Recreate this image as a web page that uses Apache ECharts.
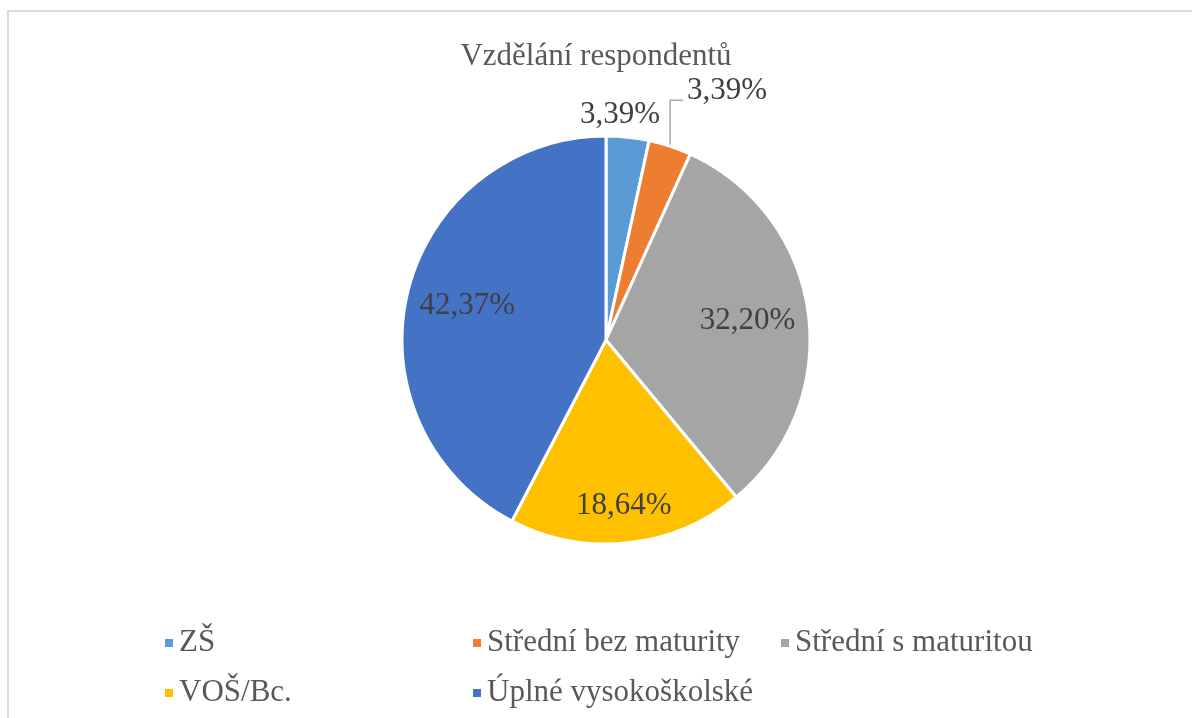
<!DOCTYPE html>
<html lang="cs">
<head>
    <meta charset="utf-8" />
    <title>Vzdělání respondentů</title>
    <script src="https://cdn.jsdelivr.net/npm/echarts@6/dist/echarts.min.js"></script>
    <style>
        html, body { margin: 0; padding: 0; background: #fff; }
        #frame { position: absolute; left: 7px; top: 10px; width: 1300px; height: 800px;
            border-left: 2px solid #dcdcdc; border-top: 2px solid #dcdcdc; }
        #main { position: absolute; left: 0; top: 0; width: 1192px; height: 718px; }
    </style>
</head>
<body>
<div id="frame"></div>
<div id="main"></div>

<script>
    // data
    var categories = ['ZŠ', 'Střední bez maturity', 'Střední s maturitou', 'VOŠ/Bc.', 'Úplné vysokoškolské'];
    var shares = [3.39, 3.39, 32.20, 18.64, 42.37];
    var colors = ['#5B9BD5', '#ED7D31', '#A5A5A5', '#FFC000', '#4472C4'];

    var font = '"Liberation Serif", "Times New Roman", serif';
    var cx = 606, cy = 340, R = 204;
    // how far from the centre each label sits, as part of the radius
    var labelRatio = [1.11, 1, 0.70, 0.82, 0.70];

    var total = shares.reduce(function (a, b) { return a + b; }, 0);
    function midAngle(i) {
        var before = 0;
        for (var k = 0; k < i; k++) before += shares[k];
        return (before + shares[i] / 2) / total * Math.PI * 2;
    }

    var myChart = echarts.init(document.getElementById('main'));

    var option = {
        color: colors,
        animation: false,
        title: {
            text: 'Vzdělání respondentů',
            left: 'center',
            top: 36,
            textStyle: { fontFamily: font, fontSize: 31, fontWeight: 'normal', color: '#595959' }
        },
        legend: {
            left: 158,
            top: 613,
            width: 930,
            itemGap: 0,
            itemWidth: 10,
            itemHeight: 10,
            icon: 'rect',
            data: categories,
            textStyle: { fontFamily: font, fontSize: 31, color: '#595959', width: 292, lineHeight: 50 }
        },
        series: [
            {
                type: 'pie',
                center: [cx, cy],
                radius: R,
                startAngle: 90,
                clockwise: true,
                avoidLabelOverlap: false,
                itemStyle: { borderColor: '#fff', borderWidth: 3 },
                label: {
                    position: 'outside',
                    fontFamily: font,
                    fontSize: 31,
                    color: '#404040',
                    formatter: function (p) {
                        return p.value.toFixed(2).replace('.', ',') + '%';
                    }
                },
                labelLine: { show: false, lineStyle: { color: '#a6a6a6', width: 1.5 } },
                labelLayout: function (p) {
                    var i = p.dataIndex;
                    var a = midAngle(i);
                    var sx = Math.sin(a), sy = -Math.cos(a);
                    if (i === 1) {
                        var ex = cx + R * sx, ey = cy + R * sy;
                        return {
                            x: ex + 17, y: ey - 55, align: 'left', verticalAlign: 'middle',
                            labelLinePoints: [[ex, ey], [ex, ey - 46], [ex + 13, ey - 46]]
                        };
                    }
                    var dx = i === 0 ? -10 : 0;
                    return {
                        x: cx + labelRatio[i] * R * sx + dx,
                        y: cy + labelRatio[i] * R * sy,
                        align: 'center', verticalAlign: 'middle'
                    };
                },
                data: categories.map(function (name, i) {
                    var d = { name: name, value: shares[i] };
                    if (i === 1) d.labelLine = { show: true };
                    return d;
                })
            }
        ]
    };

    myChart.setOption(option);
</script>
</body>
</html>
